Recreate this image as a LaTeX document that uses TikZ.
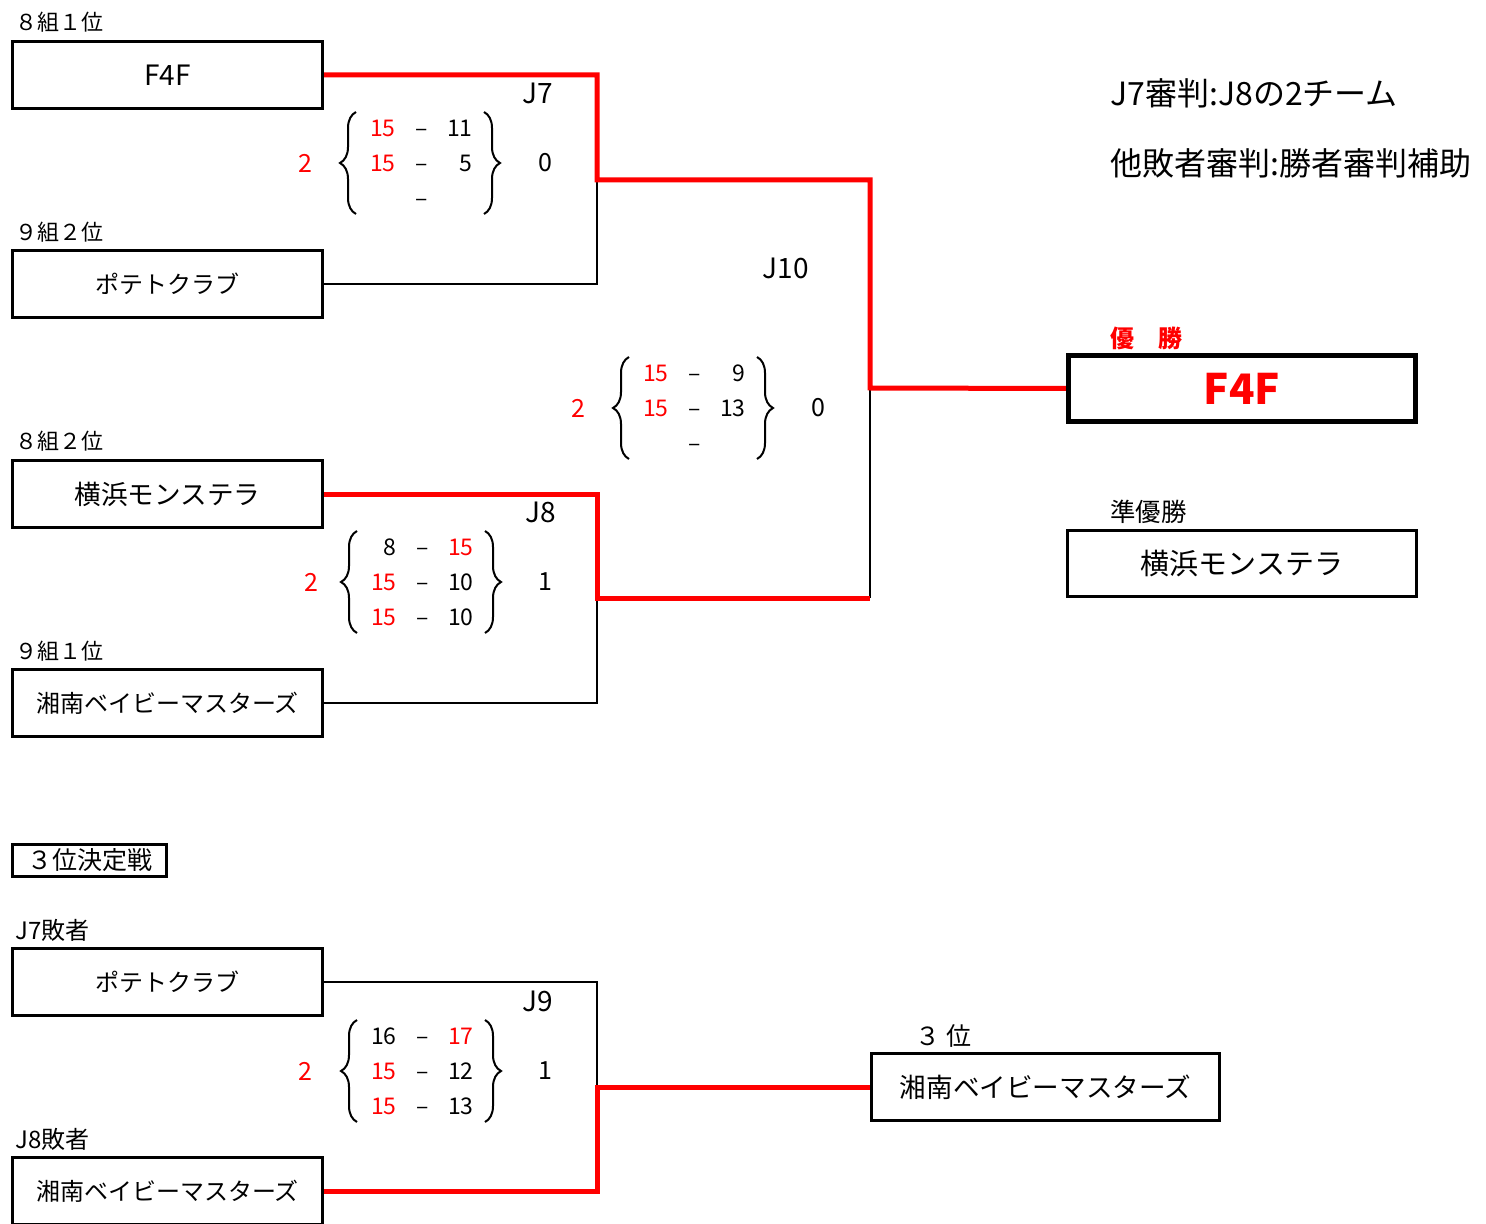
\documentclass[tikz,border=0pt]{standalone}
\usepackage{fontspec}
\setmainfont{Noto Sans CJK JP}
\usetikzlibrary{positioning}
\usetikzlibrary{decorations.pathreplacing}
\definecolor{winred}{RGB}{255,0,0}
\tikzset{team/.style={
          draw, line width=1.5pt,
          minimum width=155pt, minimum height=33.5pt,
          inner sep=0pt, font=\fontsize{12}{14}\selectfont
          },
        rank/.style={font=\fontsize{11}{13}\selectfont, inner sep=0pt, anchor=west},
        game/.style={font=\fontsize{14}{16}\selectfont, inner sep=0pt},
        score/.style={font=\fontsize{11.5}{13}\selectfont, inner sep=0pt, text height=8.4pt, text depth=0pt},
        setcount/.style={font=\fontsize{12.5}{14}\selectfont, inner sep=0pt},
        note/.style={font=\fontsize{16}{19}\selectfont, inner sep=0pt, anchor=west},
        loser/.style={line width=1.2pt},
        winner/.style={line width=2.5pt, winred},
        gbrace/.style={decorate, decoration={brace, amplitude=8pt}, line width=1pt},
}
% one game: name, x of the dashes, y of the middle row, rows left/colour/right/colour
\newcommand{\scoreblock}[4]{%
  \foreach \sl/\cl/\sr/\cr [count=\k] in {#4}{%
    \node[score, text=\cl, anchor=east] (#1-\k-l) at ({#2-26},{#3+(\k-2)*35}) {\sl};
    \node[score] (#1-\k-d) at ({#2},{#3+(\k-2)*35}) {–};
    \node[score, text=\cr, anchor=east] (#1-\k-r) at ({#2+51},{#3+(\k-2)*35}) {\sr};
  }
  \draw[gbrace] ({#2-66},{#3+51}) -- ({#2-66},{#3-51});
  \draw[gbrace] ({#2+62},{#3-51}) -- ({#2+62},{#3+51});
}
\begin{document}
\begin{tikzpicture}[x=0.5pt, y=-0.5pt]
      \useasboundingbox[fill=white] (0,0) rectangle (1486,1224);

      % FIRST ROUND TEAMS
      \node[rank] (lab81) at (15,22) {８組１位};
      \node[team, font=\fontsize{14}{16}\selectfont] (f4f) at (167.5,75) {F4F};
      \node[rank] (lab92) at (15,232) {９組２位};
      \node[team] (potato) at (167.5,284) {ポテトクラブ};
      \node[rank] (lab82) at (15,441) {８組２位};
      \node[team, font=\fontsize{13.3}{15}\selectfont] (yokohama) at (167.5,494) {横浜モンステラ};
      \node[rank] (lab91) at (15,651) {９組１位};
      \node[team] (shonan) at (167.5,703) {湘南ベイビーマスターズ};

      % J7
      \node[game] (j7lab) at (538,93) {J7};
      \scoreblock{j7}{422}{163}{15/winred/11/black, 15/winred/5/black, {}/black/{}/black}
      \node[setcount, text=winred] (j7win) at (305,163) {2};
      \node[setcount] (j7lose) at (545,163) {0};

      % J8
      \node[game] (j8lab) at (541,512) {J8};
      \scoreblock{j8}{423}{582}{8/black/15/winred, 15/winred/10/black, 15/winred/10/black}
      \node[setcount, text=winred] (j8win) at (311,582) {2};
      \node[setcount] (j8lose) at (545,582) {1};

      % J10 FINAL
      \node[game] (j10lab) at (786,268) {J10};
      \scoreblock{j10}{695}{408}{15/winred/9/black, 15/winred/13/black, {}/black/{}/black}
      \node[setcount, text=winred] (j10win) at (578,408) {2};
      \node[setcount] (j10lose) at (818,408) {0};

      % RESULTS
      \node[rank, font=\bfseries\fontsize{12}{14}\selectfont, text=winred] (winlab) at (1110,338) {優　勝};
      \node[team, line width=2.6pt, minimum width=173.5pt, minimum height=33pt,
            text=winred, font=\bfseries\fontsize{21}{24}\selectfont] (champ) at (1242,388.5) {F4F};
      \node[rank, font=\fontsize{12.7}{14}\selectfont] (runlab) at (1110,512) {準優勝};
      \node[team, minimum width=174.5pt, minimum height=33pt,
            font=\fontsize{14.5}{17}\selectfont] (runner) at (1242,563.5) {横浜モンステラ};

      \node[note] (note1) at (1110,93) {J7審判:J8の2チーム};
      \node[note] (note2) at (1110,163) {他敗者審判:勝者審判補助};

      % THIRD PLACE
      \node[team, minimum width=77pt, minimum height=16pt,
            font=\fontsize{12.5}{14}\selectfont] (thirdtitle) at (89.5,860.5) {３位決定戦};
      \node[rank, font=\fontsize{12}{14}\selectfont] (labj7) at (15,930) {J7敗者};
      \node[team] (potato2) at (167.5,982) {ポテトクラブ};
      \node[rank, font=\fontsize{12}{14}\selectfont] (labj8) at (15,1139) {J8敗者};
      \node[team] (shonan2) at (167.5,1191) {湘南ベイビーマスターズ};

      \node[game] (j9lab) at (538,1001) {J9};
      \scoreblock{j9}{423}{1071}{16/black/17/winred, 15/winred/12/black, 15/winred/13/black}
      \node[setcount, text=winred] (j9win) at (305,1071) {2};
      \node[setcount] (j9lose) at (545,1071) {1};

      \node[rank, font=\fontsize{12.5}{14}\selectfont] (thirdlab) at (915,1036) {３ 位};
      \node[team, minimum width=174pt, font=\fontsize{13.3}{15}\selectfont] (third) at (1045.5,1087) {湘南ベイビーマスターズ};

      % WIRING
      \coordinate (j7) at (597,180);
      \coordinate (j8) at (597,598);
      \coordinate (j10) at (870,388);
      \coordinate (j9) at (597,1087);

      \draw[loser] (potato.east) -| (j7);
      \draw[loser] (shonan.east) -| (j8);
      \draw[loser] (j8 -| j10) -- (j10);
      \draw[loser] (potato2.east) -| (j9);

      \draw[winner] (f4f.east) -| (j7) -- (j7 -| j10) -- (j10) -- (champ.west);
      \draw[winner] (yokohama.east) -| (j8) -- (j8 -| j10);
      \draw[winner] (shonan2.east) -| (j9) -- (third.west);

\end{tikzpicture}
\end{document}
